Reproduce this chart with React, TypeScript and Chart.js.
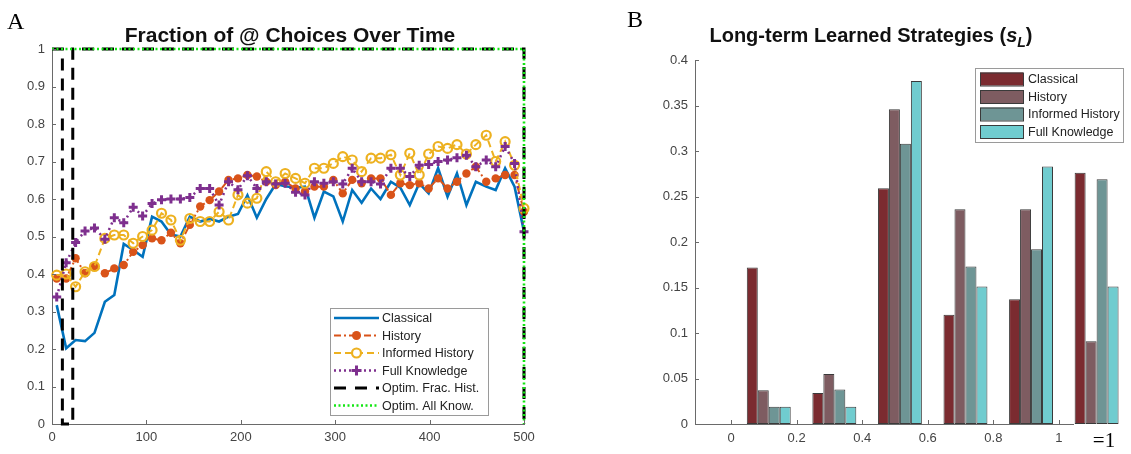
import React, { useEffect, useRef } from "react";
import { Chart, registerables } from "chart.js";

Chart.register(...registerables);

const SANS = "'Liberation Sans', Arial, Helvetica, sans-serif";
const SERIF = "'Liberation Serif', 'Times New Roman', serif";

// ---------- Panel A data ----------
const timeSteps = [5, 15, 25, 35, 45, 56, 66, 76, 86, 96, 106, 116, 126, 136, 146, 157, 167, 177, 187, 197, 207, 217, 227, 237, 247, 258, 268, 278, 288, 298, 308, 318, 328, 338, 348, 359, 369, 379, 389, 399, 409, 419, 429, 439, 449, 460, 470, 480, 490, 500];
const classicalFrac = [0.317, 0.202, 0.224, 0.221, 0.243, 0.326, 0.344, 0.48, 0.464, 0.446,
  0.553, 0.54, 0.505, 0.5, 0.553, 0.54, 0.547, 0.54, 0.553, 0.56,
  0.61, 0.55, 0.6, 0.64, 0.634, 0.63, 0.633, 0.55, 0.62, 0.607,
  0.54, 0.624, 0.59, 0.628, 0.6, 0.646, 0.63, 0.584, 0.642, 0.615,
  0.682, 0.606, 0.668, 0.584, 0.646, 0.633, 0.624, 0.682, 0.633, 0.513];
const historyFrac = [0.388, 0.388, 0.442, 0.402, 0.421, 0.402, 0.415, 0.424, 0.459, 0.477,
  0.495, 0.49, 0.51, 0.482, 0.531, 0.58, 0.597, 0.62, 0.651, 0.655,
  0.664, 0.66, 0.646, 0.637, 0.646, 0.628, 0.62, 0.633, 0.633, 0.651,
  0.615, 0.651, 0.642, 0.655, 0.655, 0.611, 0.642, 0.637, 0.642, 0.628,
  0.655, 0.628, 0.646, 0.668, 0.686, 0.646, 0.655, 0.664, 0.664, 0.566];
const informedFrac = [0.397, 0.4, 0.366, 0.406, 0.42, 0.495, 0.504, 0.504, 0.482, 0.5,
  0.517, 0.562, 0.544, 0.49, 0.548, 0.54, 0.54, 0.566, 0.544, 0.611,
  0.589, 0.602, 0.673, 0.646, 0.668, 0.655, 0.642, 0.682, 0.682, 0.695,
  0.713, 0.704, 0.673, 0.709, 0.709, 0.718, 0.664, 0.722, 0.664, 0.72,
  0.74, 0.735, 0.745, 0.72, 0.745, 0.77, 0.7, 0.753, 0.69, 0.575];
const fullFrac = [0.339, 0.43, 0.484, 0.515, 0.523, 0.493, 0.55, 0.537, 0.578, 0.555,
  0.588, 0.598, 0.6, 0.6, 0.604, 0.628, 0.628, 0.584, 0.646, 0.625,
  0.662, 0.628, 0.646, 0.64, 0.642, 0.618, 0.611, 0.646, 0.642, 0.646,
  0.64, 0.682, 0.646, 0.646, 0.64, 0.682, 0.682, 0.66, 0.69, 0.692,
  0.7, 0.704, 0.71, 0.717, 0.686, 0.704, 0.686, 0.74, 0.695, 0.513];
const optimFracX = [0, 11, 11, 22, 22, 500, 500];
const optimFracY = [1, 1, 0, 0, 1, 1, 0];
const optimAllX = [0, 500, 500];
const optimAllY = [1, 1, 0];
const timeTicks = [0, 100, 200, 300, 400, 500];
const fracTicks = [0, 0.1, 0.2, 0.3, 0.4, 0.5, 0.6, 0.7, 0.8, 0.9, 1];
const seriesNamesA = ["Classical", "History", "Informed History", "Full Knowledge", "Optim. Frac. Hist.", "Optim. All Know."];

// ---------- Panel B data ----------
const binCenters = [0.115, 0.315, 0.515, 0.715, 0.915, 1.115];
const binTicks = [0, 0.2, 0.4, 0.6, 0.8, 1];
const stratClassical = [0.172, 0.034, 0.259, 0.12, 0.137, 0.276];
const stratHistory = [0.037, 0.055, 0.346, 0.236, 0.236, 0.091];
const stratInformed = [0.019, 0.038, 0.308, 0.173, 0.192, 0.269];
const stratFull = [0.019, 0.019, 0.377, 0.151, 0.283, 0.151];
const probTicks = [0, 0.05, 0.1, 0.15, 0.2, 0.25, 0.3, 0.35, 0.4];
const seriesNamesB = ["Classical", "History", "Informed History", "Full Knowledge"];
const lastBinLabel = "=1";

const C_BLUE = "#0072BD";
const C_ORANGE = "#D95319";
const C_YELLOW = "#EDB120";
const C_PURPLE = "#7E2F8E";
const C_GREEN = "#14E614";
const AXIS = "#6a6a6a";
const TICKTXT = "#444444";

const barColors = ["#7B2B30", "#7E5C61", "#6E9595", "#70CCCF"];

const fmt = (v: number) => String(parseFloat(Number(v).toFixed(3)));

const pts = (xs: number[], ys: number[]) => xs.map((x, i) => ({ x, y: ys[i] }));

function drawSample(ctx: CanvasRenderingContext2D, x1: number, x2: number, y: number, color: string, width: number, dash: number[], marker: string) {
  ctx.save();
  ctx.strokeStyle = color;
  ctx.lineWidth = width;
  ctx.setLineDash(dash);
  ctx.beginPath();
  ctx.moveTo(x1, y);
  ctx.lineTo(x2, y);
  ctx.stroke();
  ctx.setLineDash([]);
  const mx = (x1 + x2) / 2;
  if (marker === "dot") {
    ctx.fillStyle = color;
    ctx.beginPath();
    ctx.arc(mx, y, 4.5, 0, Math.PI * 2);
    ctx.fill();
  } else if (marker === "ring") {
    ctx.fillStyle = "#fff";
    ctx.lineWidth = 2.2;
    ctx.beginPath();
    ctx.arc(mx, y, 4.5, 0, Math.PI * 2);
    ctx.fill();
    ctx.stroke();
  } else if (marker === "plus") {
    ctx.lineWidth = 3;
    ctx.beginPath();
    ctx.moveTo(mx - 5, y);
    ctx.lineTo(mx + 5, y);
    ctx.moveTo(mx, y - 5);
    ctx.lineTo(mx, y + 5);
    ctx.stroke();
  }
  ctx.restore();
}

function inwardTicks(xVals: number[], yVals: number[]) {
  return {
    id: "inwardTicks",
    afterDatasetsDraw(chart: any) {
      const { ctx, chartArea, scales } = chart;
      ctx.save();
      ctx.strokeStyle = AXIS;
      ctx.lineWidth = 1;
      ctx.beginPath();
      xVals.forEach((v) => {
        const px = Math.round(scales.x.getPixelForValue(v)) + 0.5;
        ctx.moveTo(px, chartArea.bottom);
        ctx.lineTo(px, chartArea.bottom - 4);
      });
      yVals.forEach((v) => {
        const py = Math.round(scales.y.getPixelForValue(v)) + 0.5;
        ctx.moveTo(chartArea.left, py);
        ctx.lineTo(chartArea.left + 4, py);
      });
      ctx.stroke();
      ctx.restore();
    },
  };
}

const legendA = {
  id: "legendA",
  afterDraw(chart: any) {
    const ctx = chart.ctx as CanvasRenderingContext2D;
    const x0 = 330, y0 = 308, w = 158, h = 107;
    ctx.save();
    ctx.fillStyle = "#fff";
    ctx.fillRect(x0, y0, w, h);
    ctx.strokeStyle = "#9a9a9a";
    ctx.lineWidth = 1;
    ctx.strokeRect(x0 + 0.5, y0 + 0.5, w, h);
    const styles = [
      { c: C_BLUE, w: 2.6, d: [], m: "" },
      { c: C_ORANGE, w: 2, d: [7, 3, 2, 3], m: "dot" },
      { c: C_YELLOW, w: 2, d: [7, 4], m: "ring" },
      { c: C_PURPLE, w: 2.5, d: [2, 3], m: "plus" },
      { c: "#000", w: 3, d: [12, 9], m: "" },
      { c: C_GREEN, w: 2.6, d: [2, 2.5], m: "" },
    ];
    ctx.font = `12.5px ${SANS}`;
    ctx.textBaseline = "middle";
    seriesNamesA.forEach((name, i) => {
      const y = 318 + i * 17.5;
      const s = styles[i];
      drawSample(ctx, 334, 379, y, s.c, s.w, s.d, s.m);
      ctx.fillStyle = "#222";
      ctx.fillText(name, 382, y + 1);
    });
    ctx.restore();
  },
};

const legendB = {
  id: "legendB",
  afterDraw(chart: any) {
    const ctx = chart.ctx as CanvasRenderingContext2D;
    const x0 = 410, y0 = 68, w = 148, h = 74;
    ctx.save();
    ctx.fillStyle = "#fff";
    ctx.fillRect(x0, y0, w, h);
    ctx.strokeStyle = "#9a9a9a";
    ctx.lineWidth = 1;
    ctx.strokeRect(x0 + 0.5, y0 + 0.5, w, h);
    ctx.font = `12.5px ${SANS}`;
    ctx.textBaseline = "middle";
    seriesNamesB.forEach((name, i) => {
      const y = 79 + i * 17.5;
      ctx.fillStyle = barColors[i];
      ctx.fillRect(415, y - 6.5, 43, 13);
      ctx.strokeStyle = "#3a3a3a";
      ctx.strokeRect(415.5, y - 6, 43, 13);
      ctx.fillStyle = "#222";
      ctx.fillText(name, 463, y + 1);
    });
    // extra bin label under the last group
    ctx.font = `21px ${SERIF}`;
    ctx.fillStyle = "#000";
    ctx.textAlign = "center";
    ctx.textBaseline = "alphabetic";
    ctx.fillText(lastBinLabel, 539, 447);
    ctx.restore();
  },
};

function ChartA() {
  const ref = useRef<HTMLCanvasElement>(null);
  useEffect(() => {
    if (!ref.current) return;
    const chart = new Chart(ref.current, {
      type: "line",
      data: {
        datasets: [
          { label: seriesNamesA[5], data: pts(optimAllX, optimAllY), borderColor: C_GREEN, borderWidth: 2.6, borderDash: [2, 2.5], pointRadius: 0, clip: false as any, order: 0 },
          { label: seriesNamesA[4], data: pts(optimFracX, optimFracY), borderColor: "#000", borderWidth: 3, borderDash: [12, 8], pointRadius: 0, clip: false as any, order: 1 },
          { label: seriesNamesA[3], data: pts(timeSteps, fullFrac), borderColor: C_PURPLE, borderWidth: 2.5, borderDash: [2, 4], pointStyle: "cross", pointRadius: 4.5, pointBorderWidth: 3, pointBorderColor: C_PURPLE, clip: false as any, order: 2 },
          { label: seriesNamesA[2], data: pts(timeSteps, informedFrac), borderColor: C_YELLOW, borderWidth: 2, borderDash: [7, 4], pointStyle: "circle", pointRadius: 4.5, pointBorderWidth: 2.2, pointBorderColor: C_YELLOW, pointBackgroundColor: "rgba(0,0,0,0)", clip: false as any, order: 3 },
          { label: seriesNamesA[1], data: pts(timeSteps, historyFrac), borderColor: C_ORANGE, borderWidth: 2, borderDash: [7, 3, 2, 3], pointStyle: "circle", pointRadius: 4.2, pointBorderWidth: 0, pointBackgroundColor: C_ORANGE, clip: false as any, order: 4 },
          { label: seriesNamesA[0], data: pts(timeSteps, classicalFrac), borderColor: C_BLUE, borderWidth: 2.6, pointRadius: 0, clip: false as any, order: 5 },
        ],
      },
      options: {
        animation: false,
        responsive: false,
        events: [],
        layout: { padding: { left: 0, top: 49, right: 41, bottom: 0 } },
        plugins: { legend: { display: false }, tooltip: { enabled: false }, title: { display: false } },
        elements: { line: { tension: 0 } },
        scales: {
          x: {
            type: "linear", min: 0, max: 500, offset: false,
            afterBuildTicks: (s: any) => { s.ticks = timeTicks.map((v) => ({ value: v })); },
            afterFit: (s: any) => { s.height = 30; },
            grid: { display: false, drawTicks: false },
            border: { display: true, color: AXIS, width: 1 },
            ticks: { padding: 6, color: TICKTXT, font: { family: SANS, size: 13 }, callback: (v: any) => fmt(v), maxRotation: 0 },
          },
          y: {
            type: "linear", min: 0, max: 1,
            afterBuildTicks: (s: any) => { s.ticks = fracTicks.map((v) => ({ value: v })); },
            afterFit: (s: any) => { s.width = 52; },
            grid: { display: false, drawTicks: false },
            border: { display: true, color: AXIS, width: 1 },
            ticks: { padding: 7, color: TICKTXT, font: { family: SANS, size: 13 }, callback: (v: any) => fmt(v) },
          },
        },
      } as any,
      plugins: [inwardTicks(timeTicks.slice(1), fracTicks.slice(1)), legendA],
    });
    return () => chart.destroy();
  }, []);
  return <canvas ref={ref} width={565} height={454} style={{ width: 565, height: 454, display: "block" }} />;
}

function ChartB() {
  const ref = useRef<HTMLCanvasElement>(null);
  useEffect(() => {
    if (!ref.current) return;
    const series = [stratClassical, stratHistory, stratInformed, stratFull];
    const chart = new Chart(ref.current, {
      type: "bar",
      data: {
        datasets: series.map((vals, i) => ({
          label: seriesNamesB[i],
          data: pts(binCenters, vals),
          backgroundColor: barColors[i],
          borderColor: "#3a3a3a",
          borderWidth: 1,
          borderSkipped: false,
          clip: false as any,
          categoryPercentage: 0.67,
          barPercentage: 1,
        })),
      },
      options: {
        animation: false,
        responsive: false,
        events: [],
        layout: { padding: { left: 0, top: 60, right: 58, bottom: 0 } },
        plugins: { legend: { display: false }, tooltip: { enabled: false }, title: { display: false } },
        scales: {
          x: {
            type: "linear", min: -0.11, max: 1.043, offset: false,
            afterBuildTicks: (s: any) => { s.ticks = binTicks.map((v) => ({ value: v })); },
            afterFit: (s: any) => { s.height = 30; },
            grid: { display: false, drawTicks: false, offset: false },
            border: { display: true, color: AXIS, width: 1 },
            ticks: { padding: 7, color: TICKTXT, font: { family: SANS, size: 13 }, callback: (v: any) => fmt(v), maxRotation: 0 },
          },
          y: {
            type: "linear", min: 0, max: 0.4,
            afterBuildTicks: (s: any) => { s.ticks = probTicks.map((v) => ({ value: v })); },
            afterFit: (s: any) => { s.width = 130; },
            grid: { display: false, drawTicks: false },
            border: { display: true, color: AXIS, width: 1 },
            ticks: { padding: 7, color: TICKTXT, font: { family: SANS, size: 13 }, callback: (v: any) => fmt(v) },
          },
        },
      } as any,
      plugins: [inwardTicks(binTicks, probTicks.slice(1)), legendB],
    });
    return () => chart.destroy();
  }, []);
  return <canvas ref={ref} width={566} height={454} style={{ width: 566, height: 454, display: "block" }} />;
}

export default function App() {
  return (
    <div style={{ position: "absolute", left: 0, top: 0, width: 1131, height: 454, background: "#fff", overflow: "hidden" }}>
      <div style={{ position: "absolute", left: 0, top: 0 }}><ChartA /></div>
      <div style={{ position: "absolute", left: 565, top: 0 }}><ChartB /></div>
      <div style={{ position: "absolute", left: 7, top: 8, font: `24px ${SERIF}`, color: "#000", lineHeight: "26px" }}>A</div>
      <div style={{ position: "absolute", left: 627, top: 6, font: `24px ${SERIF}`, color: "#000", lineHeight: "26px" }}>B</div>
      <div style={{ position: "absolute", left: 90, width: 400, top: 24, textAlign: "center", font: `bold 21px ${SANS}`, color: "#111", lineHeight: "22px", whiteSpace: "nowrap" }}>
        Fraction of @ Choices Over Time
      </div>
      <div style={{ position: "absolute", left: 671, width: 400, top: 24, textAlign: "center", font: `bold 20px ${SANS}`, color: "#111", lineHeight: "22px", whiteSpace: "nowrap" }}>
        Long-term Learned Strategies (<i>s</i><sub style={{ fontSize: 14, verticalAlign: "-5px" }}><i>L</i></sub>)
      </div>
    </div>
  );
}
